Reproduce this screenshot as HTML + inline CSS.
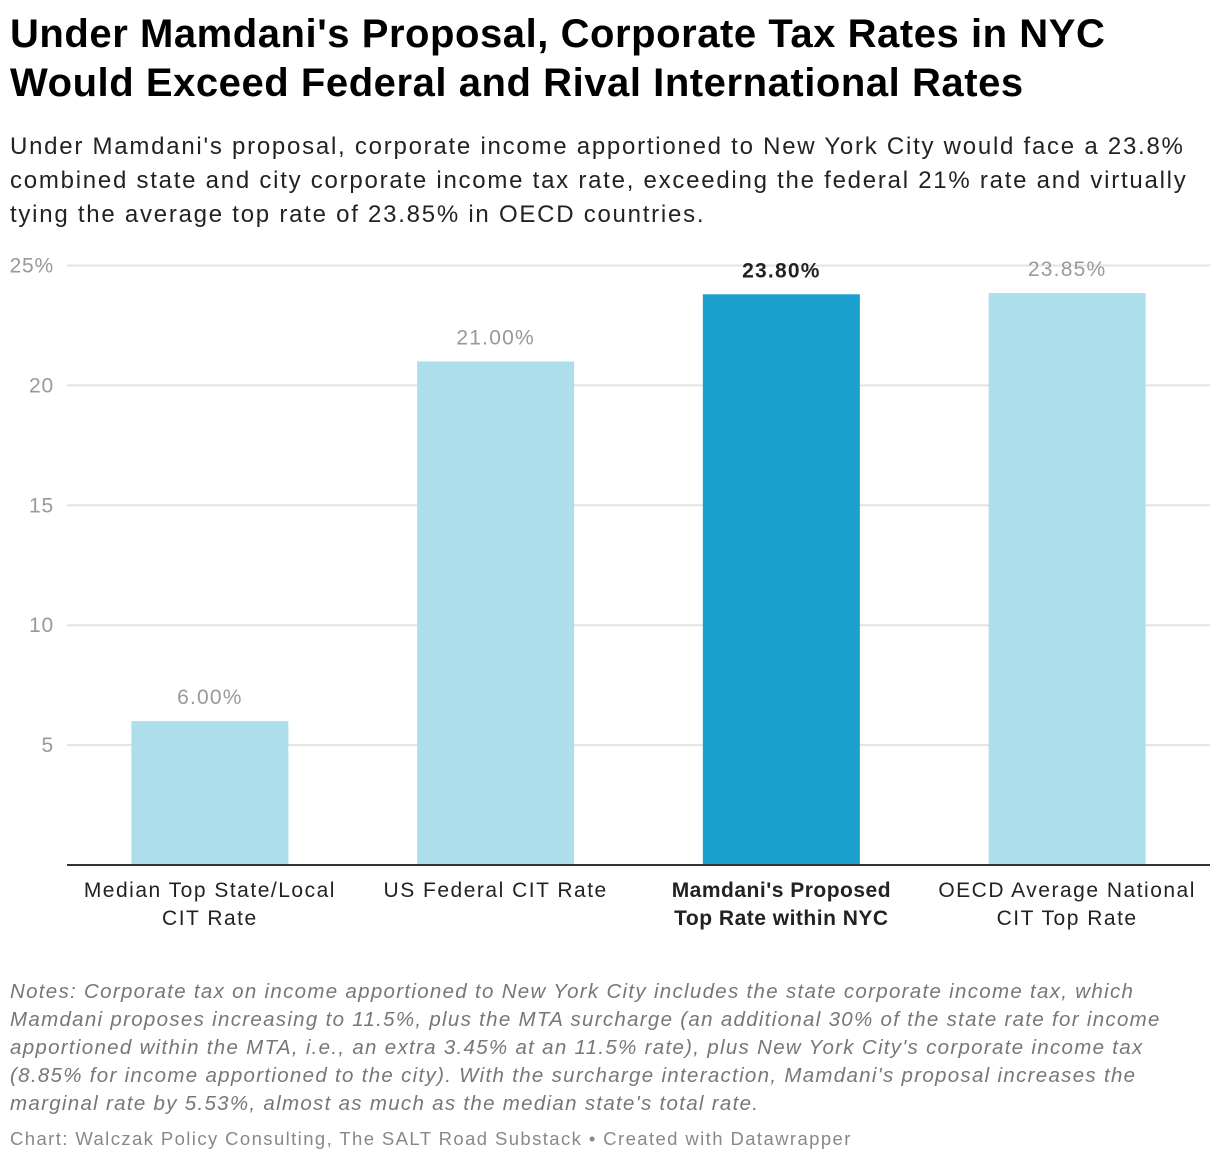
<!DOCTYPE html>
<html><head><meta charset="utf-8"><style>
body{margin:0;background:#fff;font-family:"Liberation Sans",sans-serif;}
#wrap{position:relative;width:1220px;height:1164px;overflow:hidden;}
h1{position:absolute;left:10px;top:10px;margin:0;font-size:40px;line-height:49px;font-weight:bold;color:#000;letter-spacing:0.55px;white-space:nowrap;}
.sub{position:absolute;left:10px;top:130px;margin:0;font-size:24px;line-height:34px;color:#222;letter-spacing:1.75px;white-space:nowrap;}
.notes{position:absolute;left:10px;top:978px;margin:0;font-size:20.5px;line-height:28px;font-style:italic;color:#777;letter-spacing:1.3px;white-space:nowrap;}
.foot{position:absolute;left:10px;top:1128px;font-size:18.5px;color:#888;letter-spacing:1.4px;white-space:nowrap;}
svg{position:absolute;left:0;top:0;}
</style></head><body>
<div id="wrap">
<h1>Under Mamdani's Proposal, Corporate Tax Rates in NYC<br>Would Exceed Federal and Rival International Rates</h1>
<p class="sub">Under Mamdani's proposal, corporate income apportioned to New York City would face a 23.8%<br>combined state and city corporate income tax rate, exceeding the federal 21% rate and virtually<br>tying the average top rate of 23.85% in OECD countries.</p>
<svg id="chart" width="1220" height="960"></svg>
<p class="notes">Notes: Corporate tax on income apportioned to New York City includes the state corporate income tax, which<br>Mamdani proposes increasing to 11.5%, plus the MTA surcharge (an additional 30% of the state rate for income<br>apportioned within the MTA, i.e., an extra 3.45% at an 11.5% rate), plus New York City's corporate income tax<br>(8.85% for income apportioned to the city). With the surcharge interaction, Mamdani's proposal increases the<br>marginal rate by 5.53%, almost as much as the median state's total rate.</p>
<div class="foot">Chart: Walczak Policy Consulting, The SALT Road Substack • Created with Datawrapper</div>
</div>
<script>
const categories = [["Median Top State/Local","CIT Rate"],["US Federal CIT Rate"],["Mamdani's Proposed","Top Rate within NYC"],["OECD Average National","CIT Top Rate"]];
const values = [6.00, 21.00, 23.80, 23.85];
const highlight = [false, false, true, false];
const yTicks = [5, 10, 15, 20, 25];
const yTickLabels = ["5", "10", "15", "20", "25%"];

const svg = document.getElementById('chart');
const NS = 'http://www.w3.org/2000/svg';
const y0 = 865, y25 = 265.5, xL = 67, xR = 1210;
const y = v => y0 - (v / 25) * (y0 - y25);
const band = (xR - xL) / categories.length;
const xc = i => xL + band * (i + 0.5);
const bw = 157;
function mk(t, a) { const e = document.createElementNS(NS, t); for (const k in a) e.setAttribute(k, a[k]); svg.appendChild(e); return e; }
yTicks.forEach((t, i) => {
  const g = mk('line', {x1: xL, x2: xR, y1: y(t), y2: y(t), stroke: '#e3e3e3', 'stroke-width': 2});
  
  
  const l = mk('text', {x: 54, y: y(t) + 7, 'text-anchor': 'end', 'font-size': 21, fill: '#999', 'font-family': 'Liberation Sans, sans-serif', 'letter-spacing': '0.8'});
  l.textContent = yTickLabels[i];
  
  
});
values.forEach((v, i) => {
  const r = mk('rect', {x: xc(i) - bw / 2, y: y(v), width: bw, height: y0 - y(v), fill: highlight[i] ? '#1aa0cd' : '#addeec'});
  
  
  const t = mk('text', {x: xc(i), y: y(v) - 17, 'text-anchor': 'middle', 'font-size': 21, fill: highlight[i] ? '#222' : '#999', 'font-weight': highlight[i] ? 'bold' : 'normal', 'font-family': 'Liberation Sans, sans-serif', 'letter-spacing': '1.2'});
  t.textContent = v.toFixed(2) + '%';
  
  
  categories[i].forEach((line, j) => {
    const c = mk('text', {x: xc(i), y: 897 + j * 28, 'text-anchor': 'middle', 'font-size': 21, fill: '#222', 'font-weight': highlight[i] ? 'bold' : 'normal', 'font-family': 'Liberation Sans, sans-serif', 'letter-spacing': highlight[i] ? '0.5' : '1.5'});
    c.textContent = line;
    
    
  });
});
const ax = mk('line', {x1: xL, x2: xR, y1: y0, y2: y0, stroke: '#333', 'stroke-width': 2});


</script>
</body></html>
